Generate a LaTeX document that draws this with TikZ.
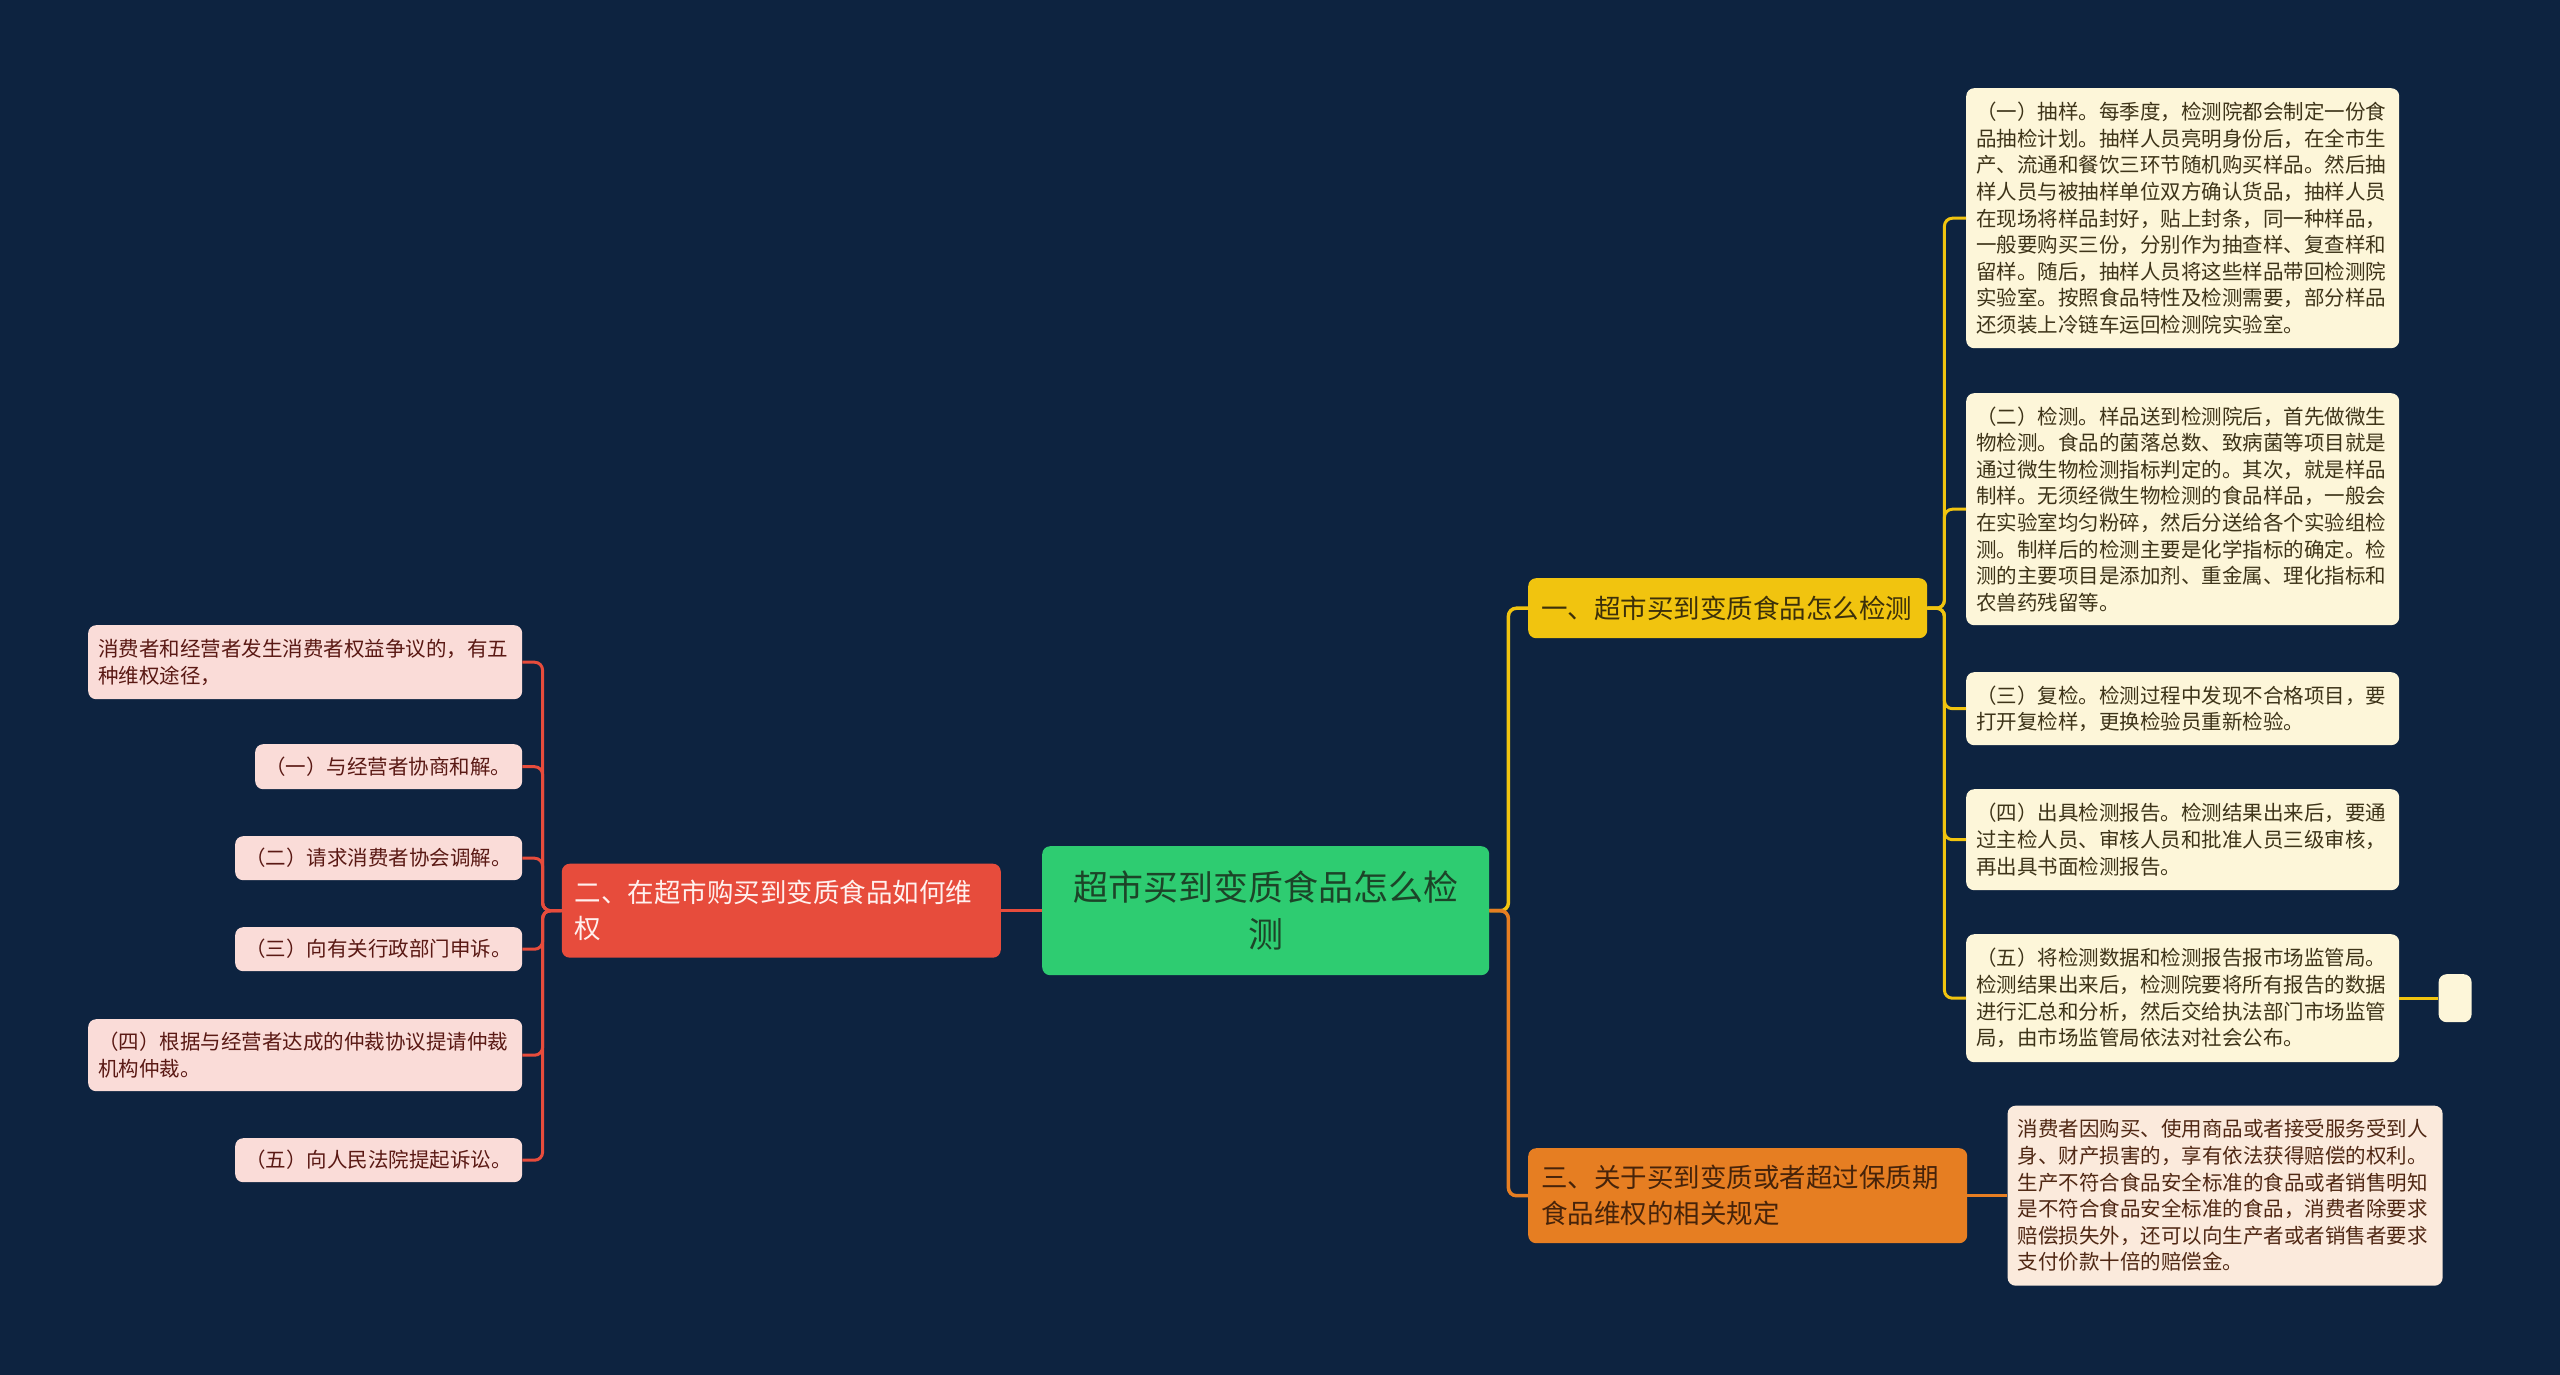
\documentclass[tikz,border=0pt]{standalone}
\usepackage{fontspec}
\setmainfont{Noto Sans CJK SC}
\usetikzlibrary{positioning}

\definecolor{bgnavy}{RGB}{13,35,64}
\definecolor{rootgreen}{RGB}{46,204,113}
\definecolor{roottext}{RGB}{28,68,40}
\definecolor{redbranch}{RGB}{231,76,60}
\definecolor{redtext}{RGB}{255,240,238}
\definecolor{yellowbranch}{RGB}{241,196,15}
\definecolor{yellowtext}{RGB}{60,48,10}
\definecolor{orangebranch}{RGB}{230,126,34}
\definecolor{orangetext}{RGB}{70,35,10}
\definecolor{creamleaf}{RGB}{253,246,217}
\definecolor{creamtext}{RGB}{62,52,25}
\definecolor{peachleaf}{RGB}{251,234,220}
\definecolor{peachtext}{RGB}{80,40,20}
\definecolor{pinkleaf}{RGB}{250,220,216}
\definecolor{pinktext}{RGB}{90,25,20}

\newcommand{\leaffont}{\fontsize{20.5}{26.6}\selectfont}
\newcommand{\branchfont}{\fontsize{26.5}{36}\selectfont}

\begin{document}
\begin{tikzpicture}[x=1pt,y=-1pt,
  card/.style={rounded corners=8pt,inner xsep=10pt,inner ysep=0pt,anchor=north west},
  root node/.style={card,fill=rootgreen,text=roottext,align=center,font=\fontsize{35}{47}\selectfont},
  branch node/.style={card,inner xsep=13pt,align=left,font=\branchfont},
  yellow leaf/.style={card,fill=creamleaf,text=creamtext,align=left,font=\leaffont},
  orange leaf/.style={card,fill=peachleaf,text=peachtext,align=left,font=\leaffont},
  red leaf/.style={card,fill=pinkleaf,text=pinktext,align=left,font=\leaffont},
  link/.style={line width=3pt,rounded corners=8pt},
  thick link/.style={line width=3.5pt,rounded corners=8pt}]

  \fill[bgnavy] (0,0) rectangle (2560,1375);
  \useasboundingbox (0,0) rectangle (2560,1375);

  % centre and the three branches
  \node[root node,text width=427,minimum height=129] (root) at (1042,846)
    {超市买到变质食品怎么检\\测};
  \node[branch node,fill=redbranch,text=redtext,text width=413,minimum height=94,
    left=41pt of root] (sec2) {二、在超市购买到变质食品如何维\\权};
  \node[branch node,fill=yellowbranch,text=yellowtext,text width=373,minimum height=60]
    (sec1) at (1528,578) {一、超市买到变质食品怎么检测};
  \node[branch node,fill=orangebranch,text=orangetext,text width=413,minimum height=95]
    (sec3) at (1528,1148) {三、关于买到变质或者超过保质期\\食品维权的相关规定};

  % leaves of branch one
  \node[yellow leaf,text width=413,minimum height=260] (a1) at (1966,88)
    {（一）抽样。每季度，检测院都会制定一份食\\
     品抽检计划。抽样人员亮明身份后，在全市生\\
     产、流通和餐饮三环节随机购买样品。然后抽\\
     样人员与被抽样单位双方确认货品，抽样人员\\
     在现场将样品封好，贴上封条，同一种样品，\\
     一般要购买三份，分别作为抽查样、复查样和\\
     留样。随后，抽样人员将这些样品带回检测院\\
     实验室。按照食品特性及检测需要，部分样品\\
     还须装上冷链车运回检测院实验室。};
  \node[yellow leaf,text width=413,minimum height=232] (a2) at (1966,393)
    {（二）检测。样品送到检测院后，首先做微生\\
     物检测。食品的菌落总数、致病菌等项目就是\\
     通过微生物检测指标判定的。其次，就是样品\\
     制样。无须经微生物检测的食品样品，一般会\\
     在实验室均匀粉碎，然后分送给各个实验组检\\
     测。制样后的检测主要是化学指标的确定。检\\
     测的主要项目是添加剂、重金属、理化指标和\\
     农兽药残留等。};
  \node[yellow leaf,text width=413,minimum height=73] (a3) at (1966,672)
    {（三）复检。检测过程中发现不合格项目，要\\
     打开复检样，更换检验员重新检验。};
  \node[yellow leaf,text width=413,minimum height=101] (a4) at (1966,789)
    {（四）出具检测报告。检测结果出来后，要通\\
     过主检人员、审核人员和批准人员三级审核，\\
     再出具书面检测报告。};
  \node[yellow leaf,text width=413,minimum height=128] (a5) at (1966,934)
    {（五）将检测数据和检测报告报市场监管局。\\
     检测结果出来后，检测院要将所有报告的数据\\
     进行汇总和分析，然后交给执法部门市场监管\\
     局，由市场监管局依法对社会公布。};
  \node[yellow leaf,inner xsep=0pt,minimum width=33,minimum height=48,
    right=39pt of a5] (blank) {};

  % leaf of branch three
  \node[orange leaf,text width=415,minimum height=180,right=40pt of sec3] (c1)
    {消费者因购买、使用商品或者接受服务受到人\\
     身、财产损害的，享有依法获得赔偿的权利。\\
     生产不符合食品安全标准的食品或者销售明知\\
     是不符合食品安全标准的食品，消费者除要求\\
     赔偿损失外，还可以向生产者或者销售者要求\\
     支付价款十倍的赔偿金。};

  % leaves of branch two
  \node[red leaf,text width=414,minimum height=74] (b0) at (88,625)
    {消费者和经营者发生消费者权益争议的，有五\\种维权途径，};
  \node[red leaf,text width=247,minimum height=45] (b1) at (255,744)
    {（一）与经营者协商和解。};
  \node[red leaf,text width=267,minimum height=44] (b2) at (235,836)
    {（二）请求消费者协会调解。};
  \node[red leaf,text width=267,minimum height=44] (b3) at (235,927)
    {（三）向有关行政部门申诉。};
  \node[red leaf,text width=414,minimum height=72] (b4) at (88,1019)
    {（四）根据与经营者达成的仲裁协议提请仲裁\\机构仲裁。};
  \node[red leaf,text width=267,minimum height=44] (b5) at (235,1138)
    {（五）向人民法院提起诉讼。};

  % connectors
  \draw[thick link,redbranch] (root.west) -- (sec2.east);
  \draw[thick link,yellowbranch] (root.east) -- ++(19,0) |- (sec1.west);
  \draw[thick link,orangebranch] (root.east) -- ++(19,0) |- (sec3.west);
  \foreach \leaf in {a1,a2,a3,a4,a5}
    \draw[link,yellowbranch] (sec1.east) -- ++(17,0) |- (\leaf.west);
  \draw[link,yellowbranch] (a5.east) -- (blank.west);
  \draw[link,orangebranch] (sec3.east) -- (c1.west);
  \foreach \leaf in {b0,b1,b2,b3,b4,b5}
    \draw[link,redbranch] (sec2.west) -- ++(-19,0) |- (\leaf.east);
\end{tikzpicture}
\end{document}
